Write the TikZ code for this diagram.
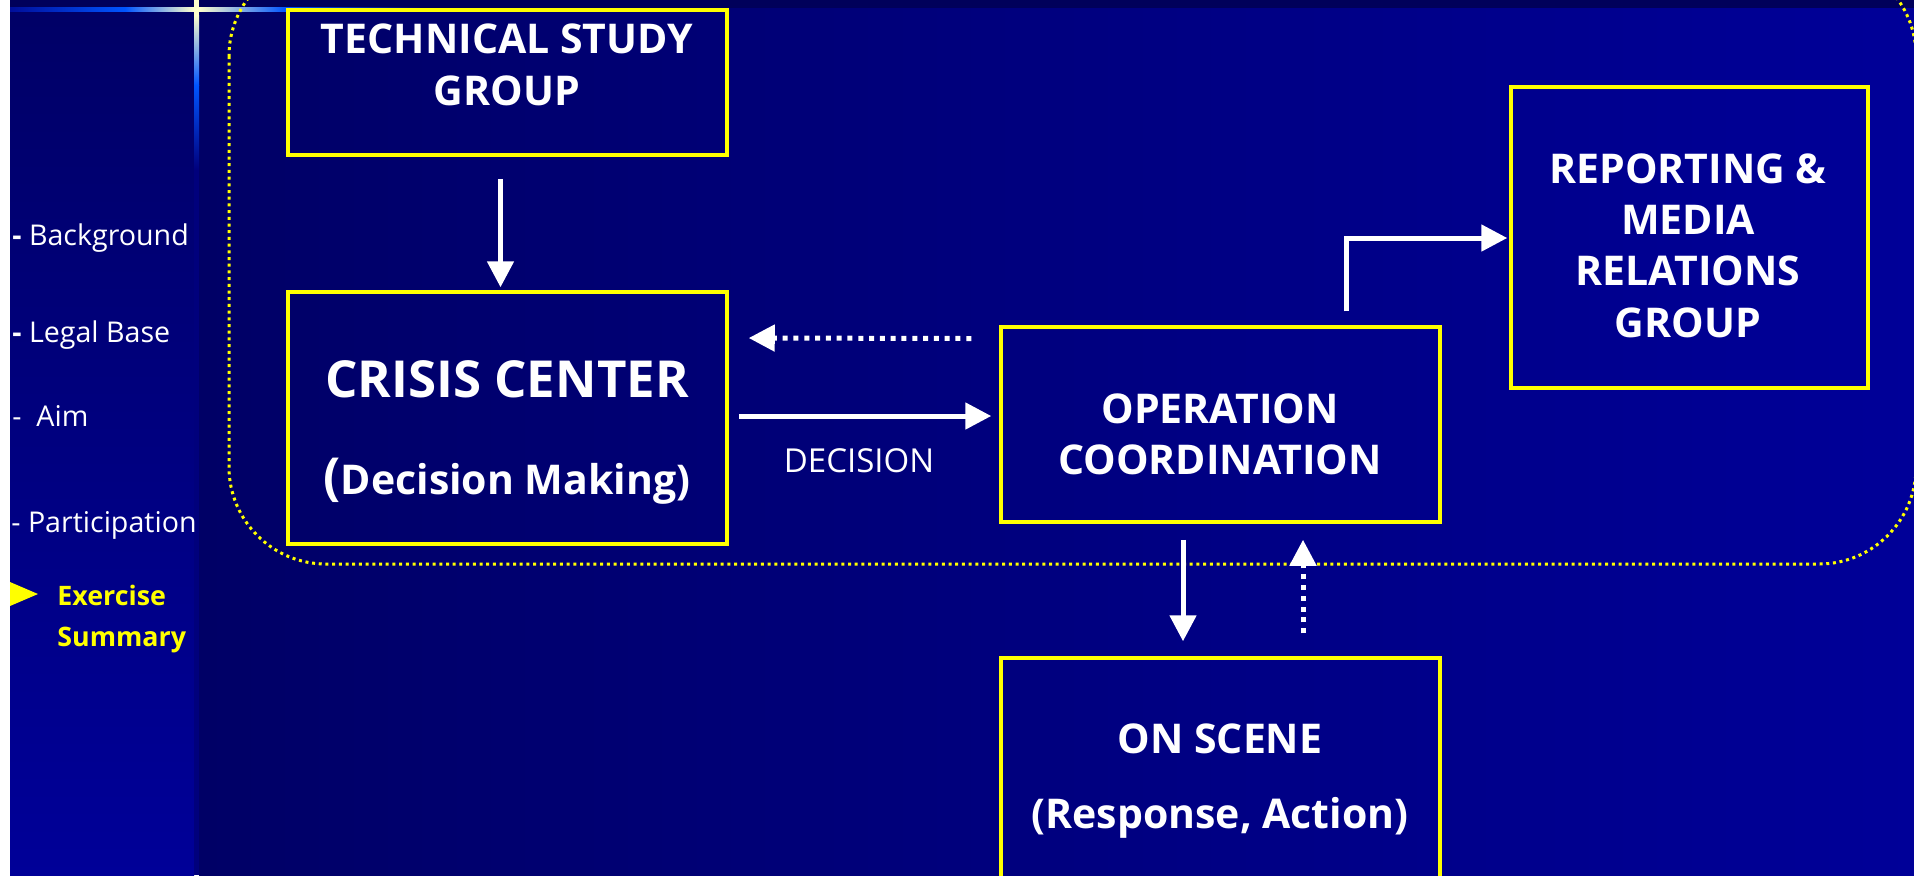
\documentclass[tikz,border=0pt]{standalone}
\usepackage{fontspec}
\setmainfont{Open Sans}
\usetikzlibrary{arrows.meta,calc}
\definecolor{navyA}{HTML}{000066}
\definecolor{navyB}{HTML}{000098}
\definecolor{navyTop}{HTML}{00005A}
\definecolor{sideline}{HTML}{00007C}
\definecolor{glowdark}{HTML}{000E9A}
\definecolor{glowblue}{HTML}{0055FF}
\definecolor{cream}{HTML}{FFFFCC}
\definecolor{boxyellow}{HTML}{FFFF00}
\begin{document}
\begin{tikzpicture}[x=0.5pt,y=-0.5pt,
  box/.style={draw=boxyellow,line width=1.75pt,minimum width=219.5pt,inner sep=0pt},
  lbl/.style={text=white,font=\bfseries\fontsize{20.5}{25}\selectfont,inner sep=0pt,anchor=base},
  big/.style={text=white,font=\bfseries\fontsize{25.5}{30}\selectfont,inner sep=0pt,anchor=base},
  arr/.style={draw=white,line width=2.5pt,-{Triangle[length=13pt,width=13pt]}},
  dotarr/.style={arr,dash pattern=on 2.5pt off 2.9pt},
  side/.style={text=white,font=\fontsize{14.3}{17}\selectfont,inner sep=0pt,anchor=base west},
  sidehl/.style={text=boxyellow,font=\bfseries\fontsize{13.4}{16}\selectfont,inner sep=0pt,anchor=base west},
]
\useasboundingbox (0,0) rectangle (1914,875);
\clip (0,0) rectangle (1914,875);

% background
\fill[white] (0,0) rectangle (1914,875);
\shade[left color=navyA,right color=navyB] (199,0) rectangle (1914,875);
\shade[top color=navyA,bottom color=navyB] (10,0) rectangle (194,875);
\fill[sideline] (194,0) rectangle (199,875);
\fill[navyTop] (10,0) rectangle (1914,8);
% glow lines
\shade[left color=glowdark,right color=glowblue] (10,7) rectangle (125,11);
\shade[left color=glowblue,right color=cream] (125,7) rectangle (194,11);
\shade[left color=cream,right color=glowblue] (199,7) rectangle (285,11);
\shade[left color=glowblue,right color=navyA] (285,7) rectangle (420,11);
\fill[cream] (194,0) rectangle (199,15);
\shade[top color=cream,bottom color=glowblue] (194,15) rectangle (199,85);
\shade[top color=glowblue,bottom color=sideline] (194,85) rectangle (199,170);

% dotted group outline
\draw[boxyellow,line width=1.5pt,dash pattern=on 1.5pt off 1.85pt,rounded corners=48.5pt]
  (229,-41) rectangle (1916,564);

% sidebar
\node[side] (bg) at (12,245) {\textbf{-} Background};
\node[side] (lb) at (12,342) {\textbf{-} Legal Base};
\node[side] (aim) at (12,426) {-\ \ Aim};
\node[side] (part) at (11,532) {- Participation};
\fill[boxyellow] (10,582) -- (38,594) -- (10,606) -- cycle;
\node[sidehl] (ex) at (57,605) {Exercise};
\node[sidehl] (sum) at (57,646) {Summary};

% boxes
\node[box,minimum height=72.5pt] (tsg) at (507.5,82.5) {};
\node[box,minimum height=126pt] (cc) at (507.5,418) {};
\node[box,minimum height=97.5pt] (oc) at (1220.5,424.5) {};
\node[box,minimum width=178.5pt,minimum height=150.5pt] (rmr) at (1689.5,237.5) {};
\node[box,minimum height=121pt] (os) at (1220.5,779) {};

% box texts
\node[lbl] (tsg1) at (507,53) {TECHNICAL STUDY};
\node[lbl] (tsg2) at (507,105) {GROUP};
\node[big] (cc1) at (507,397) {CRISIS CENTER};
\node[lbl] (cc2) at (507,494) {{\fontsize{25.5}{30}\selectfont(}Decision Making)};
\node[lbl] (oc1) at (1220,423) {OPERATION};
\node[lbl] (oc2) at (1220,474) {COORDINATION};
\node[lbl] (rm1) at (1688,183) {REPORTING \&};
\node[lbl] (rm2) at (1688,234) {MEDIA};
\node[lbl] (rm3) at (1688,285) {RELATIONS};
\node[lbl] (rm4) at (1688,337) {GROUP};
\node[lbl] (os1) at (1220,753) {ON SCENE};
\node[lbl] (os2) at (1220,828) {(Response, Action)};

% connectors
\draw[arr] ($(tsg.south)+(-7,22)$) -- ($(cc.north)+(-7,-3)$);
\draw[dotarr] ($(oc.west)+(-28,-86)$) -- ($(cc.east)+(20,-80)$);
\draw[arr] ($(cc.east)+(10,-2)$) -- node[below=15pt,xshift=-3pt,text=white,font=\fontsize{16.5}{20}\selectfont,inner sep=0pt] (dec) {DECISION} ($(oc.west)+(-8,-8.5)$);
\draw[arr] ($(oc.north)+(125.5,-14)$) |- ($(rmr.west)+(-2,0.5)$);
\draw[arr] ($(oc.south)+(-37.5,16)$) -- ($(os.north)+(-37.5,-15)$);
\draw[dotarr] ($(os.north)+(82.5,-23)$) -- ($(oc.south)+(82.5,16)$);
\end{tikzpicture}
\end{document}
